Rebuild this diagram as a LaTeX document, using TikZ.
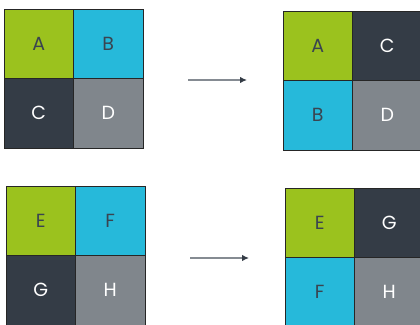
\documentclass[tikz,border=0pt]{standalone}
\usepackage{fontspec}
\setmainfont{Poppins}
\usepackage{tikz}
\usetikzlibrary{positioning,arrows.meta}

\definecolor{tilegreen}{HTML}{9BC21E}
\definecolor{tilecyan}{HTML}{26B9DA}
\definecolor{tiledark}{HTML}{343C46}
\definecolor{tilegrey}{HTML}{80868C}
\definecolor{inkdark}{HTML}{3A4450}
\definecolor{arrowgrey}{HTML}{858B92}

\tikzset{
  cell/.style={draw=black!85, line width=0.7pt, minimum size=69.5pt, inner sep=0pt, outer sep=0pt,
    font=\fontsize{19}{19}\selectfont},
  green cell/.style={cell, fill=tilegreen, text=inkdark},
  cyan cell/.style={cell, fill=tilecyan, text=inkdark},
  dark cell/.style={cell, fill=tiledark, text=white},
  grey cell/.style={cell, fill=tilegrey, text=white},
  swap arrow/.style={draw=arrowgrey, line width=1.3pt, -{Latex[length=7pt,width=6.5pt,color=tiledark]}}
}

\begin{document}
\begin{tikzpicture}[x=1pt,y=-1pt]
\useasboundingbox (0,0) rectangle (420,324);

%% first grid, before
\node[green cell, anchor=north west] (a1) at (4,9) {A};
\node[cyan cell, right=0pt of a1] (b1) {B};
\node[dark cell, below=0pt of a1] (c1) {C};
\node[grey cell, right=0pt of c1] (d1) {D};

%% first grid, after
\node[green cell, anchor=north west] (a2) at (283,11) {A};
\node[dark cell, right=0pt of a2] (c2) {C};
\node[cyan cell, below=0pt of a2] (b2) {B};
\node[grey cell, right=0pt of b2] (d2) {D};

%% second grid, before
\node[green cell, anchor=north west] (e1) at (6,186) {E};
\node[cyan cell, right=0pt of e1] (f1) {F};
\node[dark cell, below=0pt of e1] (g1) {G};
\node[grey cell, right=0pt of g1] (h1) {H};

%% second grid, after
\node[green cell, anchor=north west] (e2) at (285,188) {E};
\node[dark cell, right=0pt of e2] (g2) {G};
\node[cyan cell, below=0pt of e2] (f2) {F};
\node[grey cell, right=0pt of f2] (h2) {H};

%% arrows
\coordinate (top start) at (188,80);
\coordinate (top end) at (247,80);
\coordinate (low start) at (190,258);
\coordinate (low end) at (249,258);
\draw[swap arrow] (top start) -- (top end);
\draw[swap arrow] (low start) -- (low end);
\end{tikzpicture}
\end{document}
